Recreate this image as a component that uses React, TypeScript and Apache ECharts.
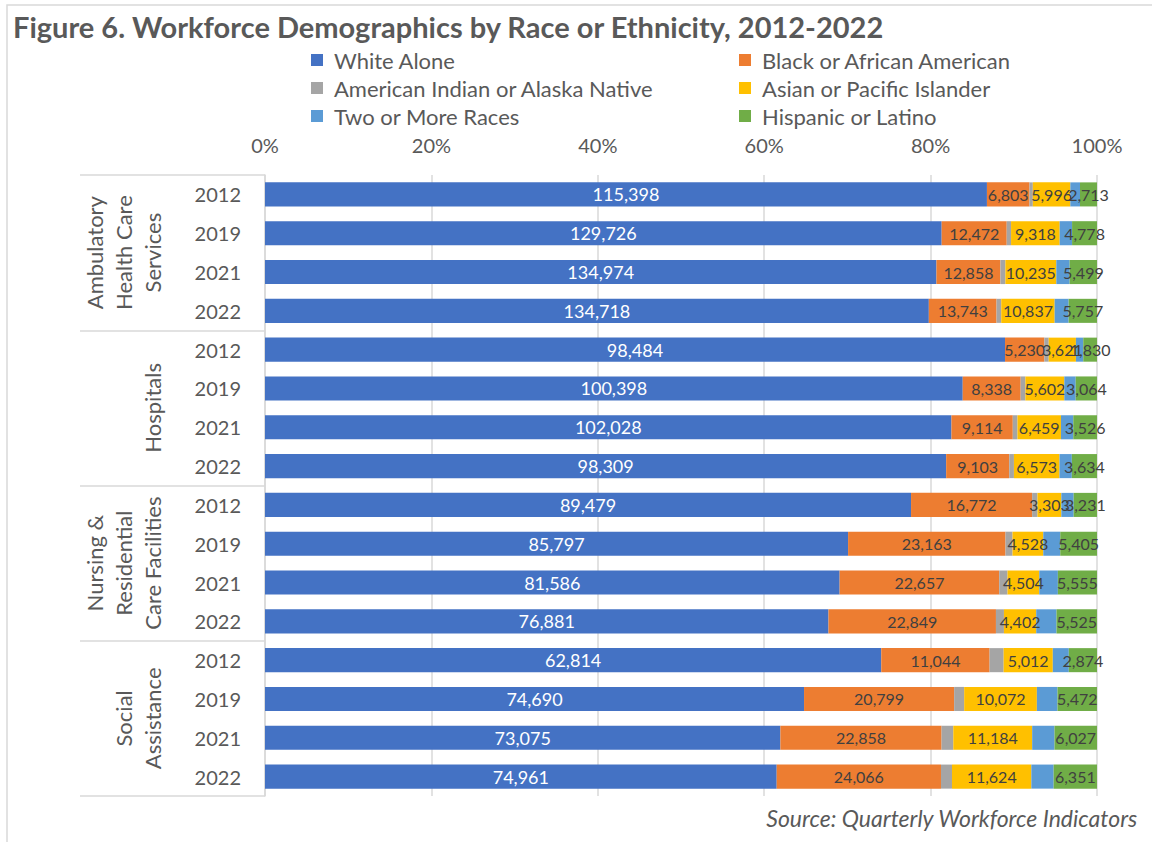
import React, { useEffect, useRef } from "react";
import * as echarts from "echarts";

const titleText = "Figure 6. Workforce Demographics by Race or Ethnicity, 2012-2022";
const sourceText = "Source: Quarterly Workforce Indicators";

const groupLabels = [
  "Ambulatory\nHealth Care\nServices",
  "Hospitals",
  "Nursing &\nResidential\nCare Facilities",
  "Social\nAssistance",
];
const yearLabels = [
  "2012", "2019", "2021", "2022",
  "2012", "2019", "2021", "2022",
  "2012", "2019", "2021", "2022",
  "2012", "2019", "2021", "2022",
];
const seriesNames = [
  "White Alone",
  "Black or African American",
  "American Indian or Alaska Native",
  "Asian or Pacific Islander",
  "Two or More Races",
  "Hispanic or Latino",
];
const seriesColors = ["#4472C4", "#ED7D31", "#A5A5A5", "#FFC000", "#5B9BD5", "#70AD47"];

const whiteAlone = [115398, 129726, 134974, 134718, 98484, 100398, 102028, 98309, 89479, 85797, 81586, 76881, 62814, 74690, 73075, 74961];
const blackAfricanAmerican = [6803, 12472, 12858, 13743, 5230, 8338, 9114, 9103, 16772, 23163, 22657, 22849, 11044, 20799, 22858, 24066];
const americanIndian = [530, 830, 1000, 950, 585, 675, 700, 680, 740, 1030, 1180, 1090, 1430, 1390, 1660, 1610];
const asianPacific = [5996, 9318, 10235, 10837, 3621, 5602, 6459, 6573, 3303, 4528, 4504, 4402, 5012, 10072, 11184, 11624];
const twoOrMore = [1550, 2380, 2680, 2840, 975, 1640, 1830, 1780, 1710, 2500, 2645, 2770, 1630, 2860, 3165, 3270];
const hispanicLatino = [2713, 4778, 5499, 5757, 1830, 3064, 3526, 3634, 3231, 5405, 5555, 5525, 2874, 5472, 6027, 6351];

const xTicks = [0, 20, 40, 60, 80, 100];

const rawSeries = [whiteAlone, blackAfricanAmerican, americanIndian, asianPacific, twoOrMore, hispanicLatino];
const showLabel = [true, true, false, true, false, true];

export default function App() {
  const ref = useRef<HTMLDivElement>(null);

  useEffect(() => {
    if (!ref.current) return;
    const chart = echarts.init(ref.current, undefined, { renderer: "svg" });
    const totals = yearLabels.map((_, i) => rawSeries.reduce((s, arr) => s + arr[i], 0));
    const font = "Lato";
    const grey = "#595959";

    const series = rawSeries.map((arr, si) => ({
      name: seriesNames[si],
      type: "bar",
      stack: "total",
      yAxisIndex: 0,
      barCategoryGap: "38%",
      itemStyle: { color: seriesColors[si] },
      data: arr.map((v, i) => (v / totals[i]) * 100),
      label: {
        show: showLabel[si],
        position: "inside",
        fontFamily: font,
        fontSize: si === 0 ? 18 : 16,
        color: si === 0 ? "#ffffff" : "#404040",
        formatter: (p: any) => arr[p.dataIndex].toLocaleString("en-US"),
      },
      emphasis: { disabled: true },
    }));

    const legendIcon = "path://M0,0 L10,0 L10,10 L0,10 Z";
    const legendCommon = {
      orient: "vertical",
      top: 44,
      itemGap: 6,
      itemWidth: 24,
      itemHeight: 12,
      icon: legendIcon,
      selectedMode: false,
      textStyle: { fontFamily: font, fontSize: 22, color: grey, lineHeight: 22 },
    };

    chart.setOption({
      animation: false,
      textStyle: { fontFamily: font },
      title: {
        text: titleText,
        left: 8,
        top: 7,
        textStyle: { fontFamily: font, fontSize: 29, fontWeight: "bold", color: grey },
      },
      legend: [
        { ...legendCommon, left: 306, data: [seriesNames[0], seriesNames[2], seriesNames[4]] },
        { ...legendCommon, left: 734, data: [seriesNames[1], seriesNames[3], seriesNames[5]] },
      ],
      grid: { left: 265, right: 55, top: 175, bottom: 46, containLabel: false },
      xAxis: {
        type: "value",
        position: "top",
        min: xTicks[0],
        max: xTicks[xTicks.length - 1],
        interval: 20,
        axisLine: { show: false },
        axisTick: { show: false },
        axisLabel: { formatter: "{value}%", fontFamily: font, fontSize: 20, color: grey, margin: 20 },
        splitLine: { show: true, lineStyle: { color: "#d9d9d9", width: 1.5 } },
      },
      yAxis: [
        {
          type: "category",
          data: yearLabels,
          inverse: true,
          position: "left",
          axisLine: { show: true, lineStyle: { color: "#d9d9d9", width: 1.5 } },
          axisTick: { show: false },
          axisLabel: { fontFamily: font, fontSize: 20, color: grey, margin: 24 },
        },
        {
          type: "category",
          data: groupLabels,
          inverse: true,
          position: "left",
          axisLine: { show: false },
          axisTick: { show: true, length: 185, lineStyle: { color: "#d9d9d9", width: 1.5 } },
          axisLabel: {
            rotate: 90,
            margin: 98,
            fontFamily: font,
            fontSize: 22,
            lineHeight: 29,
            color: grey,
            interval: 0,
          },
        },
      ],
      graphic: [
        {
          type: "rect",
          shape: { x: 7, y: 5, width: 1170, height: 860 },
          style: { fill: "none", stroke: "#d9d9d9", lineWidth: 1.5 },
          silent: true,
        },
        {
          type: "text",
          right: 14,
          top: 806,
          style: {
            text: sourceText,
            fontFamily: font,
            fontSize: 23,
            fontStyle: "italic",
            fill: grey,
          },
        },
      ],
      series,
    });

    return () => chart.dispose();
  }, []);

  return (
    <div
      ref={ref}
      style={{ position: "absolute", left: 0, top: 0, width: 1152, height: 842, background: "#ffffff" }}
    />
  );
}
